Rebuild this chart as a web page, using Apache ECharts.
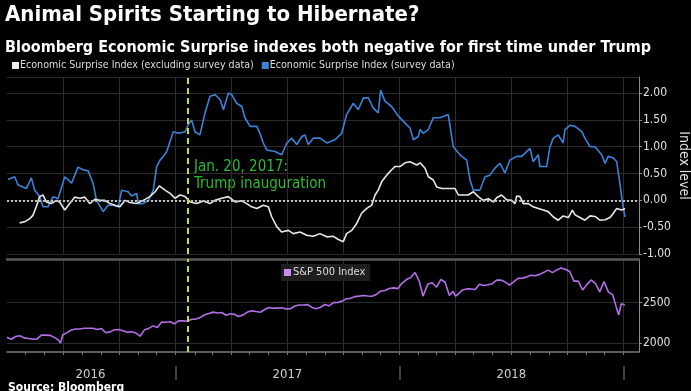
<!DOCTYPE html>
<html><head><meta charset="utf-8">
<script src="https://cdn.jsdelivr.net/npm/echarts@6/dist/echarts.min.js"></script>
<style>html,body{margin:0;padding:0;background:#000;}#c{width:691px;height:391px;}</style>
</head><body><div id="c"></div>
<script>
// ---------- data ----------
const titleText = 'Animal Spirits Starting to Hibernate?';
const subtitleText = 'Bloomberg Economic Surprise indexes both negative for first time under Trump';
const sourceText = 'Source: Bloomberg';
const seriesNames = ['Economic Surprise Index (excluding survey data)', 'Economic Surprise Index (survey data)', 'S&P 500 Index'];
const yearLabels = ['2016', '2017', '2018'];
const yearLabelDates = ['2016-08-15', '2017-07-02', '2018-07-02'];
const yearBreaks = ['2017-01-01', '2018-01-01', '2019-01-01'];
const bottomTicks = [2000, 2500];
const inaugurationDate = '2017-01-20';
const annotation = 'Jan. 20, 2017:\nTrump inauguration';

// time in decimal years
const surveyT = [2016.253,2016.283,2016.297,2016.320,2016.335,2016.357,2016.372,2016.394,2016.409,2016.431,2016.454,2016.476,2016.506,2016.536,2016.565,2016.587,2016.610,2016.632,2016.647,2016.677,2016.699,2016.721,2016.744,2016.759,2016.788,2016.804,2016.826,2016.833,2016.855,2016.878,2016.900,2016.915,2016.930,2016.945,2016.960,2016.989,2017.012,2017.042,2017.056,2017.071,2017.086,2017.108,2017.131,2017.153,2017.175,2017.198,2017.213,2017.235,2017.250,2017.272,2017.295,2017.309,2017.332,2017.362,2017.376,2017.391,2017.406,2017.443,2017.473,2017.496,2017.518,2017.540,2017.563,2017.577,2017.592,2017.614,2017.644,2017.674,2017.711,2017.741,2017.763,2017.793,2017.815,2017.838,2017.860,2017.882,2017.904,2017.915,2017.934,2017.964,2017.994,2018.024,2018.046,2018.061,2018.083,2018.091,2018.105,2018.128,2018.150,2018.180,2018.217,2018.239,2018.269,2018.299,2018.314,2018.329,2018.358,2018.381,2018.403,2018.425,2018.448,2018.470,2018.492,2018.522,2018.545,2018.582,2018.596,2018.619,2018.626,2018.656,2018.671,2018.686,2018.708,2018.730,2018.738,2018.760,2018.783,2018.813,2018.827,2018.850,2018.872,2018.902,2018.917,2018.931,2018.954,2018.969,2018.976,2018.983,2018.991,2018.998,2019.006];
const surveyV = [0.39,0.44,0.29,0.25,0.22,0.42,0.19,0.07,-0.12,-0.12,0.07,0.03,0.44,0.32,0.62,0.57,0.55,0.32,0.00,-0.21,-0.09,-0.09,-0.12,0.19,0.16,0.08,0.13,-0.06,-0.06,0.00,0.19,0.63,0.75,0.82,0.91,1.28,1.25,1.28,1.41,1.50,1.28,1.22,1.63,1.94,1.97,1.88,1.69,2.00,1.97,1.81,1.75,1.54,1.38,1.38,1.25,1.07,0.94,0.91,0.85,1.07,1.16,1.04,1.19,1.22,1.04,1.16,1.16,1.07,1.13,1.25,1.60,1.81,1.69,1.91,1.91,1.72,1.63,2.05,1.85,1.75,1.57,1.44,1.35,1.13,1.19,1.32,1.25,1.32,1.54,1.54,1.60,1.00,0.85,0.75,0.38,0.19,0.19,0.44,0.47,0.60,0.69,0.51,0.75,0.82,0.82,0.97,0.72,0.85,0.63,0.63,1.00,1.16,1.22,1.07,1.32,1.40,1.38,1.28,1.16,1.00,1.00,0.85,0.69,0.82,0.79,0.72,0.75,0.32,0.07,-0.12,-0.31];

const exSurveyT = [2016.305,2016.327,2016.350,2016.364,2016.379,2016.394,2016.409,2016.424,2016.446,2016.469,2016.483,2016.506,2016.528,2016.550,2016.573,2016.595,2016.617,2016.640,2016.662,2016.684,2016.707,2016.729,2016.751,2016.774,2016.796,2016.826,2016.855,2016.885,2016.908,2016.927,2016.952,2016.975,2016.997,2017.019,2017.042,2017.064,2017.094,2017.123,2017.153,2017.175,2017.205,2017.235,2017.265,2017.295,2017.317,2017.339,2017.362,2017.391,2017.413,2017.429,2017.451,2017.473,2017.503,2017.525,2017.555,2017.585,2017.614,2017.644,2017.674,2017.704,2017.726,2017.748,2017.763,2017.786,2017.808,2017.830,2017.853,2017.875,2017.890,2017.904,2017.920,2017.942,2017.964,2017.979,2018.001,2018.024,2018.046,2018.076,2018.091,2018.113,2018.128,2018.150,2018.165,2018.188,2018.217,2018.247,2018.262,2018.284,2018.306,2018.329,2018.351,2018.373,2018.396,2018.418,2018.433,2018.455,2018.478,2018.500,2018.515,2018.522,2018.537,2018.552,2018.574,2018.596,2018.619,2018.641,2018.663,2018.686,2018.708,2018.730,2018.753,2018.771,2018.783,2018.805,2018.827,2018.850,2018.872,2018.894,2018.917,2018.939,2018.954,2018.969,2018.991,2019.006];
const exSurveyV = [-0.42,-0.40,-0.34,-0.28,-0.12,0.07,0.10,-0.03,-0.06,0.00,-0.03,-0.18,-0.06,0.06,0.04,0.06,-0.06,0.02,0.00,0.00,-0.06,-0.09,-0.12,0.00,-0.04,-0.06,0.00,0.07,0.16,0.27,0.19,0.13,0.04,0.10,0.07,-0.03,-0.06,-0.01,-0.06,0.00,0.04,0.07,-0.03,-0.01,-0.06,-0.12,-0.15,-0.09,-0.12,-0.31,-0.49,-0.59,-0.56,-0.62,-0.59,-0.65,-0.67,-0.62,-0.68,-0.67,-0.73,-0.77,-0.62,-0.56,-0.43,-0.24,-0.15,-0.09,0.10,0.19,0.35,0.47,0.57,0.63,0.63,0.70,0.72,0.66,0.70,0.60,0.44,0.38,0.25,0.22,0.22,0.22,0.10,0.10,0.10,0.16,0.07,0.00,0.03,-0.03,0.05,0.10,0.01,0.00,-0.06,0.08,0.07,-0.06,-0.06,-0.12,-0.15,-0.18,-0.21,-0.31,-0.37,-0.29,-0.32,-0.18,-0.27,-0.32,-0.37,-0.29,-0.30,-0.37,-0.36,-0.32,-0.24,-0.15,-0.18,-0.15];

const spxDates = ['2016-04-01','2016-04-08','2016-04-15','2016-04-22','2016-04-29','2016-05-06','2016-05-13','2016-05-20','2016-05-27','2016-06-03','2016-06-10','2016-06-17','2016-06-24','2016-06-27','2016-07-01','2016-07-08','2016-07-15','2016-07-22','2016-07-29','2016-08-05','2016-08-12','2016-08-19','2016-08-26','2016-09-02','2016-09-09','2016-09-16','2016-09-23','2016-09-30','2016-10-07','2016-10-14','2016-10-21','2016-10-28','2016-11-04','2016-11-11','2016-11-18','2016-11-25','2016-12-02','2016-12-09','2016-12-16','2016-12-23','2016-12-30','2017-01-06','2017-01-13','2017-01-20','2017-01-27','2017-02-03','2017-02-10','2017-02-17','2017-02-24','2017-03-03','2017-03-10','2017-03-17','2017-03-24','2017-03-31','2017-04-07','2017-04-13','2017-04-21','2017-04-28','2017-05-05','2017-05-12','2017-05-19','2017-05-26','2017-06-02','2017-06-09','2017-06-16','2017-06-23','2017-06-30','2017-07-07','2017-07-14','2017-07-21','2017-07-28','2017-08-04','2017-08-11','2017-08-18','2017-08-25','2017-09-01','2017-09-08','2017-09-15','2017-09-22','2017-09-29','2017-10-06','2017-10-13','2017-10-20','2017-10-27','2017-11-03','2017-11-10','2017-11-17','2017-11-24','2017-12-01','2017-12-08','2017-12-15','2017-12-22','2017-12-29','2018-01-05','2018-01-12','2018-01-19','2018-01-26','2018-02-02','2018-02-08','2018-02-16','2018-02-23','2018-03-02','2018-03-09','2018-03-16','2018-03-23','2018-03-29','2018-04-02','2018-04-06','2018-04-13','2018-04-20','2018-04-27','2018-05-04','2018-05-11','2018-05-18','2018-05-25','2018-06-01','2018-06-08','2018-06-15','2018-06-22','2018-06-29','2018-07-06','2018-07-13','2018-07-20','2018-07-27','2018-08-03','2018-08-10','2018-08-17','2018-08-24','2018-08-31','2018-09-07','2018-09-14','2018-09-21','2018-09-28','2018-10-05','2018-10-12','2018-10-19','2018-10-26','2018-10-29','2018-11-02','2018-11-09','2018-11-16','2018-11-23','2018-11-30','2018-12-07','2018-12-14','2018-12-21','2018-12-24','2018-12-28','2018-12-31','2019-01-03'];
const spxValues = [2073,2048,2081,2092,2065,2057,2047,2052,2099,2099,2096,2071,2037,2000,2103,2130,2162,2175,2174,2183,2184,2184,2169,2180,2128,2139,2165,2168,2153,2133,2141,2126,2085,2164,2182,2213,2192,2260,2258,2264,2239,2277,2275,2271,2295,2297,2316,2351,2367,2383,2372,2378,2344,2363,2355,2329,2349,2384,2399,2390,2382,2416,2439,2432,2433,2438,2423,2425,2459,2472,2472,2476,2441,2425,2443,2477,2461,2500,2502,2519,2549,2553,2575,2581,2588,2582,2579,2602,2642,2651,2675,2683,2674,2743,2786,2810,2873,2762,2581,2732,2747,2691,2786,2752,2588,2641,2582,2604,2656,2670,2670,2663,2728,2713,2721,2735,2779,2780,2755,2718,2760,2801,2802,2819,2840,2833,2850,2875,2902,2872,2905,2930,2914,2885,2767,2768,2658,2641,2723,2781,2736,2633,2760,2633,2600,2417,2351,2486,2507,2470];

// ---------- helpers ----------
function yr(t) {
  const y = Math.floor(t);
  const s = Date.UTC(y, 0, 1), e = Date.UTC(y + 1, 0, 1);
  return s + (t - y) * (e - s);
}
function d(str) { const p = str.split('-').map(Number); return Date.UTC(p[0], p[1] - 1, p[2]); }
const xMin = d('2016-04-01'), xMax = d('2019-01-26');
const quarters = [], months = [];
for (let y = 2016; y <= 2019; y++) for (let m = 0; m < 12; m++) {
  const t = Date.UTC(y, m, 1);
  if (t <= xMin || t > xMax) continue;
  months.push(t);
  if (m % 3 === 0) quarters.push(t);
}
const labelPos = yearLabelDates.map(d);
const FN = "'Liberation Sans Narrow', 'DejaVu Sans Condensed', 'Liberation Sans', sans-serif";
const GRID = '#2c2c2c';
const inaug = d(inaugurationDate);

const chart = echarts.init(document.getElementById('c'), null, { renderer: 'canvas' });
const baseX = (grid) => ({
  type: 'value', gridIndex: grid, min: xMin, max: xMax, scale: true,
  axisLine: { show: false }, axisLabel: { show: false },
  axisTick: { show: false }, splitLine: { show: false }
});
chart.setOption({
  backgroundColor: '#000',
  animation: false,
  textStyle: { fontFamily: FN },
  title: [
    { text: titleText, left: 5, top: 4, padding: 0, textStyle: { color: '#fff', fontSize: 22, fontWeight: 'bold', fontFamily: FN } },
    { text: subtitleText, left: 5, top: 40, padding: 0, textStyle: { color: '#fff', fontSize: 16, fontWeight: 'bold', fontFamily: FN } },
    { text: sourceText, left: 8, top: 382, padding: 0, textStyle: { color: '#fff', fontSize: 12, fontWeight: 'bold', fontFamily: FN } }
  ],
  legend: [
    { data: [seriesNames[0], seriesNames[1]], left: 12, top: 60, padding: 0, itemGap: 8, itemWidth: 7, itemHeight: 7, icon: 'rect',
      textStyle: { color: '#ddd', fontSize: 10.6, padding: [0, 0, 0, -4], fontFamily: FN } },
    { data: [seriesNames[2]], left: 281, top: 264, padding: [3, 5, 3, 3], itemWidth: 7, itemHeight: 7, icon: 'rect',
      backgroundColor: '#1e1e1e', textStyle: { color: '#ddd', fontSize: 11, padding: [0, 0, 0, -3], fontFamily: FN } }
  ],
  grid: [
    { left: 7, right: 52, top: 77, height: 177, outerBoundsMode: 'none', containLabel: false },
    { left: 7, right: 52, top: 259, height: 93, outerBoundsMode: 'none', containLabel: false }
  ],
  xAxis: [
    Object.assign(baseX(0), { axisTick: { show: false, customValues: quarters }, splitLine: { show: true, lineStyle: { color: GRID, width: 1 } } }),
    Object.assign(baseX(1), { position: 'bottom', axisLine: { show: true, lineStyle: { color: '#7a7a7a', width: 1.5 } },
      axisTick: { show: false, customValues: quarters }, splitLine: { show: true, lineStyle: { color: GRID, width: 1 } } }),
    Object.assign(baseX(1), { position: 'bottom', axisTick: { show: true, customValues: months, length: 3, lineStyle: { color: '#7a7a7a' } } }),
    Object.assign(baseX(1), { position: 'bottom', offset: 14,
      axisTick: { show: true, customValues: yearBreaks.map(d), length: 14, lineStyle: { color: '#555', width: 1.5 } },
      axisLabel: { show: true, customValues: labelPos, margin: 2, color: '#cfcfcf', fontSize: 13, fontFamily: FN,
        formatter: (v) => { const i = labelPos.indexOf(v); return i >= 0 ? yearLabels[i] : ''; } } }),
    Object.assign(baseX(1), { position: 'top', axisLine: { show: true, lineStyle: { color: '#5a5a5a', width: 2.5 } } })
  ],
  yAxis: [
    { type: 'value', gridIndex: 0, position: 'right', min: -1, max: 2.3, interval: 0.5,
      axisLine: { show: true, lineStyle: { color: '#8a8a8a' } },
      axisTick: { show: true, length: 3, lineStyle: { color: '#8a8a8a' } },
      axisLabel: { color: '#e0e0e0', fontSize: 12, margin: 4, showMaxLabel: false, formatter: (v) => v.toFixed(2) },
      splitLine: { show: true, lineStyle: { color: GRID } },
      name: 'Index level', nameLocation: 'middle', nameRotate: -90, nameGap: 38, nameMoveOverlap: false,
      nameTextStyle: { color: '#e0e0e0', fontSize: 14 } },
    { type: 'value', gridIndex: 1, position: 'right', min: 1890, max: 3040,
      axisLine: { show: true, lineStyle: { color: '#8a8a8a' } },
      axisTick: { show: true, length: 3, customValues: bottomTicks, lineStyle: { color: '#8a8a8a' } },
      axisLabel: { color: '#e0e0e0', fontSize: 12, margin: 4, customValues: bottomTicks, formatter: (v) => String(v) },
      splitLine: { show: true, lineStyle: { color: GRID } } }
  ],
  series: [
    { name: seriesNames[1], type: 'line', xAxisIndex: 0, yAxisIndex: 0, showSymbol: false, symbol: 'none',
      data: surveyT.map((t, i) => [yr(t), surveyV[i]]),
      itemStyle: { color: '#3b82d9' }, lineStyle: { color: '#3b82d9', width: 1.6 }, z: 3 },
    { name: seriesNames[0], type: 'line', xAxisIndex: 0, yAxisIndex: 0, showSymbol: false, symbol: 'none',
      data: exSurveyT.map((t, i) => [yr(t), exSurveyV[i]]),
      itemStyle: { color: '#ececec' }, lineStyle: { color: '#e8e8e8', width: 1.6 }, z: 4,
      markLine: {
        silent: true, symbol: 'none', label: { show: false },
        data: [
          { yAxis: 0, lineStyle: { color: '#bdbdbd', type: [2, 2], width: 2 } },
          { xAxis: inaug, lineStyle: { color: '#c6dc38', type: [6, 4], width: 2 } }
        ]
      } },
    { name: seriesNames[2], type: 'line', xAxisIndex: 1, yAxisIndex: 1, showSymbol: false, symbol: 'none',
      data: spxDates.map((s, i) => [d(s), spxValues[i]]),
      itemStyle: { color: '#c88af4' }, lineStyle: { color: '#b36ee6', width: 1.6 },
      markLine: { silent: true, symbol: 'none', label: { show: false },
        lineStyle: { color: '#c6dc38', type: [6, 4], width: 2 }, data: [{ xAxis: inaug }] } }
  ],
  graphic: [
    { type: 'text', left: 194, top: 159, silent: true,
      style: { text: annotation, fill: '#2dbb2d', font: '15px ' + FN, lineHeight: 17 } }
  ]
});
</script>
</body></html>
